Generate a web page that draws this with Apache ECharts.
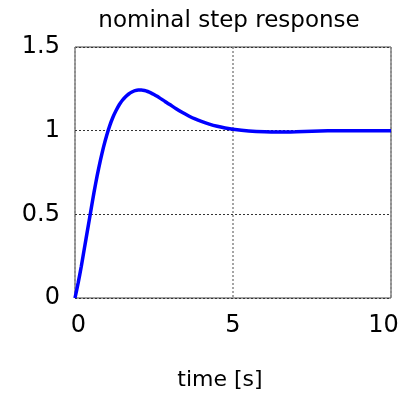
<!DOCTYPE html>
<html>
<head>
<meta charset="utf-8">
<script src="https://cdn.jsdelivr.net/npm/echarts@6/dist/echarts.min.js"></script>
<style>
  html, body { margin: 0; padding: 0; background: #fff; }
  #chart { width: 414px; height: 399px; }
</style>
</head>
<body>
<div id="chart"></div>
<script>
// Nominal closed-loop step response samples
const timeSec = [0, 0.1, 0.2, 0.3, 0.4, 0.5, 0.6, 0.7, 0.8, 0.9,
                 1.0, 1.1, 1.2, 1.3, 1.4, 1.5, 1.6, 1.7, 1.8, 1.9,
                 2.0, 2.1, 2.2, 2.3, 2.4, 2.5, 2.6, 2.7, 2.8, 2.9,
                 3.0, 3.2, 3.4, 3.6, 3.8, 4.0, 4.25, 4.5, 4.75, 5.0,
                 5.5, 6.0, 6.5, 7.0, 7.5, 8.0, 8.5, 9.0, 10.0];
const response = [0, 0.09, 0.19, 0.30, 0.41, 0.52, 0.63, 0.73, 0.82, 0.90,
                  0.97, 1.03, 1.08, 1.12, 1.155, 1.182, 1.203, 1.219, 1.231, 1.239,
                  1.243, 1.243, 1.240, 1.234, 1.226, 1.216, 1.205, 1.193, 1.181, 1.168,
                  1.156, 1.131, 1.108, 1.088, 1.070, 1.055, 1.039, 1.026, 1.016, 1.008,
                  0.998, 0.993, 0.992, 0.994, 0.997, 0.999, 1.0, 1.0, 1.0];
const chartTitle = 'nominal step response';
const xLabel = 'time [s]';

const FONT = 'DejaVu Sans';
const chart = echarts.init(document.getElementById('chart'), null, { renderer: 'canvas' });

chart.setOption({
  animation: false,
  backgroundColor: '#ffffff',
  title: [
    {
      text: chartTitle,
      left: 224, top: 5, textAlign: 'center',
      textStyle: { fontFamily: FONT, fontSize: 23, fontWeight: 'normal', color: '#000' }
    },
    {
      text: xLabel,
      left: 215, top: 364, textAlign: 'center',
      textStyle: { fontFamily: FONT, fontSize: 22, fontWeight: 'normal', color: '#000' }
    }
  ],
  grid: {
    left: 75, right: 23, top: 47, bottom: 101,
    show: true, borderColor: '#444', borderWidth: 1, backgroundColor: 'transparent'
  },
  xAxis: {
    type: 'value', min: 0, max: 10, interval: 5,
    axisLine: { show: false }, axisTick: { show: false },
    axisLabel: {
      margin: 16, fontFamily: FONT, fontSize: 24, color: '#000',
      // end labels sit slightly inside the frame
      formatter: v => v === 0 ? '{lo|0}' : v === 10 ? '{hi|10}' : String(v),
      rich: {
        lo: { fontFamily: FONT, fontSize: 24, color: '#000', padding: [0, 0, 0, 7] },
        hi: { fontFamily: FONT, fontSize: 24, color: '#000', padding: [0, 15, 0, 0] }
      }
    },
    splitLine: { show: true, lineStyle: { color: '#888', width: 1.5, type: [2, 2] } }
  },
  yAxis: {
    type: 'value', min: 0, max: 1.5, interval: 0.5,
    axisLine: { show: false }, axisTick: { show: false },
    axisLabel: { margin: 15, fontFamily: FONT, fontSize: 24, color: '#000' },
    splitLine: { show: true, lineStyle: { color: '#333', width: 1, type: [2, 2] } }
  },
  series: [{
    type: 'line',
    data: timeSec.map((t, i) => [t, response[i]]),
    smooth: 0.2,
    showSymbol: false,
    lineStyle: { color: '#0000ff', width: 3.5 },
    clip: false
  }]
});
</script>
</body>
</html>
